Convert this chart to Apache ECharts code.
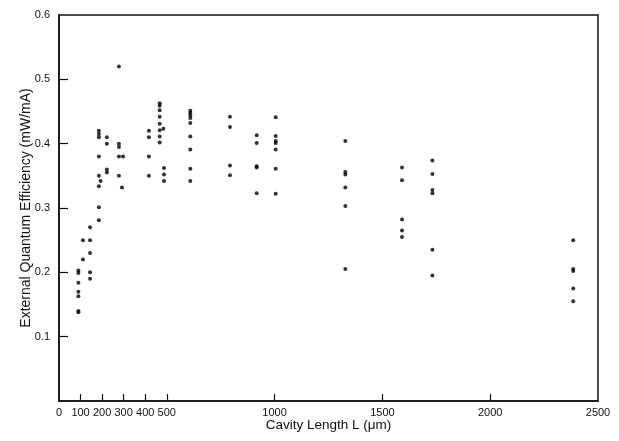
<!DOCTYPE html>
<html>
<head>
<meta charset="utf-8">
<script src="https://cdn.jsdelivr.net/npm/echarts@6/dist/echarts.min.js"></script>
<style>html,body{margin:0;padding:0;background:#fff;}#c{width:619px;height:441px;}</style>
</head>
<body>
<div id="c"></div>
<script>
// Cavity lengths (um) of each measured group
const cavityLengths = [90, 111, 144, 185, 193, 222, 278, 292, 297, 417, 467, 484, 487, 609, 793, 917, 1005, 1328, 1591, 1732, 2385];
// External quantum efficiency values (mW/mA) for each group
const efficiencies = [
  [0.203, 0.199, 0.184, 0.170, 0.163, 0.140, 0.138],
  [0.250, 0.220],
  [0.270, 0.250, 0.230, 0.200, 0.190],
  [0.420, 0.415, 0.410, 0.380, 0.350, 0.334, 0.301, 0.281],
  [0.342],
  [0.410, 0.400, 0.360, 0.355],
  [0.520, 0.400, 0.395, 0.380, 0.350],
  [0.332],
  [0.380],
  [0.420, 0.410, 0.380, 0.350],
  [0.463, 0.459, 0.452, 0.442, 0.431, 0.421, 0.411, 0.402],
  [0.423],
  [0.362, 0.352, 0.342],
  [0.451, 0.448, 0.444, 0.440, 0.432, 0.411, 0.391, 0.361, 0.342],
  [0.442, 0.426, 0.366, 0.351],
  [0.413, 0.401, 0.365, 0.363, 0.323],
  [0.441, 0.412, 0.404, 0.401, 0.391, 0.361, 0.322],
  [0.404, 0.356, 0.352, 0.332, 0.303, 0.205],
  [0.363, 0.343, 0.282, 0.265, 0.255],
  [0.374, 0.353, 0.328, 0.323, 0.235, 0.195],
  [0.250, 0.205, 0.202, 0.175, 0.155]
];
const xLabelValues = [0, 100, 200, 300, 400, 500, 1000, 1500, 2000, 2500];
const xTickValues = [100, 200, 300, 400, 500, 1000, 1500, 2000];
const yLabelValues = [0.1, 0.2, 0.3, 0.4, 0.5, 0.6];
const yTickValues = [0.1, 0.2, 0.3, 0.4, 0.5];

const points = [];
cavityLengths.forEach((L, i) => efficiencies[i].forEach(v => points.push([L, v])));

const font = 'Liberation Sans, Arial, Helvetica, sans-serif';
const chart = echarts.init(document.getElementById('c'), null, {renderer: 'canvas'});
chart.setOption({
  animation: false,
  backgroundColor: '#fff',
  grid: {left: 59, right: 21, top: 15, bottom: 40, show: true, borderColor: '#111', borderWidth: 1.5, backgroundColor: 'transparent'},
  xAxis: {
    type: 'value', min: 0, max: 2500,
    name: 'Cavity Length L (μm)', nameLocation: 'middle', nameGap: 17, nameMoveOverlap: false,
    nameTextStyle: {fontFamily: font, fontSize: 13.5, color: '#111'},
    axisLine: {show: true, lineStyle: {color: '#111', width: 1.5}},
    axisTick: {show: true, inside: true, length: 7, customValues: xTickValues, lineStyle: {color: '#111', width: 1.2}},
    axisLabel: {customValues: xLabelValues, fontFamily: font, fontSize: 11, color: '#111', margin: 6, formatter: v => String(v)},
    splitLine: {show: false}
  },
  yAxis: {
    type: 'value', min: 0, max: 0.6, interval: 0.1,
    name: 'External Quantum Efficiency (mW/mA)', nameLocation: 'middle', nameGap: 26, nameMoveOverlap: false,
    nameTextStyle: {fontFamily: font, fontSize: 14, color: '#111'},
    axisLine: {show: true, lineStyle: {color: '#111', width: 1.5}},
    axisTick: {show: true, inside: true, length: 9, customValues: yTickValues, lineStyle: {color: '#111', width: 1.2}},
    axisLabel: {customValues: yLabelValues, fontFamily: font, fontSize: 11, color: '#111', margin: 9, formatter: v => v.toFixed(1)},
    splitLine: {show: false}
  },
  series: [{
    type: 'scatter',
    data: points,
    symbol: 'circle',
    symbolSize: 4,
    itemStyle: {color: '#000'},
    silent: true
  }]
});
</script>
</body>
</html>
